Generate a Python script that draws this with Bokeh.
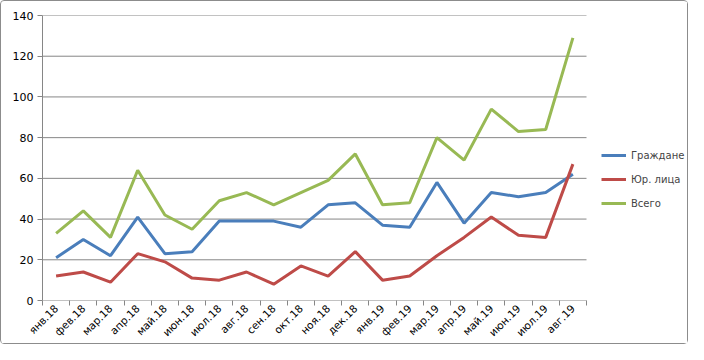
import math
from bokeh.plotting import figure
from bokeh.models import FixedTicker, Legend, LegendItem, ColumnDataSource
from bokeh.embed import file_html
from bokeh.resources import INLINE

months = ["янв.18", "фев.18", "мар.18", "апр.18", "май.18", "июн.18", "июл.18",
          "авг.18", "сен.18", "окт.18", "ноя.18", "дек.18", "янв.19", "фев.19",
          "мар.19", "апр.19", "май.19", "июн.19", "июл.19", "авг.19"]
citizens = [21, 30, 22, 41, 23, 24, 39, 39, 39, 36, 47, 48, 37, 36, 58, 38, 53, 51, 53, 62]
legal = [12, 14, 9, 23, 19, 11, 10, 14, 8, 17, 12, 24, 10, 12, 22, 31, 41, 32, 31, 67]
total = [33, 44, 31, 64, 42, 35, 49, 53, 47, 53, 59, 72, 47, 48, 80, 69, 94, 83, 84, 129]
y_ticks = [0, 20, 40, 60, 80, 100, 120, 140]

series = [("Граждане", citizens, "#4A7EBB"),
          ("Юр. лица", legal, "#BE4B48"),
          ("Всего", total, "#98B954")]

n = len(months)
xs = [i + 0.5 for i in range(n)]

# frame spans the legend area too; plot region occupies x in [0, n]
W, H = 688, 344
left, top, bottom = 41, 14, 43
frame_w = W - left
cat_px = 27.2
x_end = frame_w / cat_px

p = figure(width=W, height=H, output_backend="svg", toolbar_location=None,
           x_range=(0, x_end), y_range=(0, 140),
           min_border_left=left, min_border_top=top, min_border_bottom=bottom,
           min_border_right=0)
p.outline_line_color = None
p.background_fill_color = "white"
p.border_fill_color = "white"

# gridlines limited to the plotting region
p.segment(x0=[0] * len(y_ticks), x1=[n] * len(y_ticks), y0=y_ticks, y1=y_ticks,
          line_color="#868686", line_width=1)

items = []
for name, vals, color in series:
    src = ColumnDataSource(dict(x=xs, y=vals))
    r = p.line("x", "y", source=src, line_color=color, line_width=3)
    items.append(LegendItem(label=name, renderers=[r]))

# x axis
p.xaxis.ticker = FixedTicker(ticks=xs, minor_ticks=list(range(n + 1)))
p.xaxis.major_label_overrides = {x: m for x, m in zip(xs, months)}
p.xaxis.major_label_orientation = math.pi / 4
p.xaxis.major_tick_line_color = None
p.xaxis.major_tick_out = 0
p.xaxis.major_tick_in = 0
p.xaxis.minor_tick_line_color = "#868686"
p.xaxis.minor_tick_out = 5
p.xaxis.minor_tick_in = 0
p.xaxis.axis_line_color = None
p.xaxis.major_label_text_font = "DejaVu Sans"
p.xaxis.major_label_text_font_size = "10.5px"
p.xaxis.major_label_text_color = "black"
p.xaxis.major_label_standoff = 1
p.xaxis.axis_label = None

# y axis
p.yaxis.ticker = FixedTicker(ticks=y_ticks)
p.yaxis.minor_tick_line_color = None
p.yaxis.major_tick_line_color = "#868686"
p.yaxis.major_tick_out = 5
p.yaxis.major_tick_in = 0
p.yaxis.axis_line_color = "#868686"
p.yaxis.major_label_text_font = "DejaVu Sans"
p.yaxis.major_label_text_font_size = "11px"
p.yaxis.major_label_text_color = "black"
p.yaxis.major_label_standoff = 4

p.xgrid.grid_line_color = None
p.ygrid.grid_line_color = None

legend = Legend(items=items, location=(559, 87), orientation="vertical",
                border_line_color=None, background_fill_alpha=0,
                padding=0, margin=0, spacing=4, label_height=20, glyph_height=20,
                glyph_width=25, label_standoff=5,
                label_text_font="DejaVu Sans", label_text_font_size="10px")
p.add_layout(legend)

p.styles = {"border": "1px solid #8c8c8c", "border-radius": "4px", "box-sizing": "border-box"}

open("out.html", "w").write(file_html(p, INLINE))
